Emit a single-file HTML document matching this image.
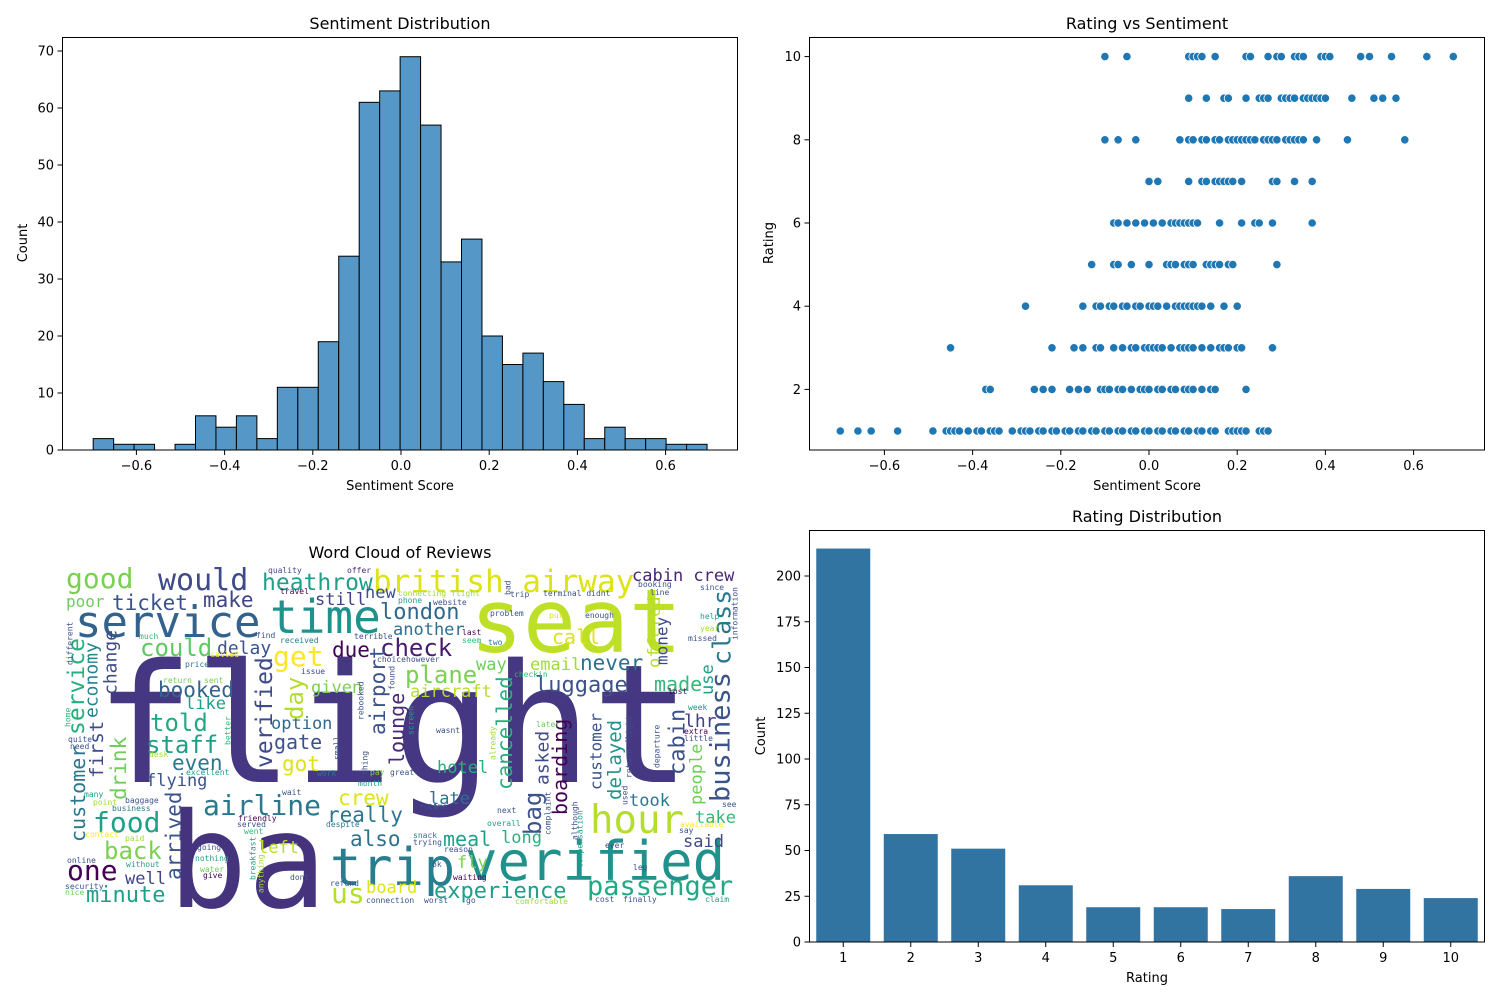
<!DOCTYPE html>
<html><head><meta charset="utf-8"><style>
body{margin:0;background:#fff;}
svg{display:block;font-family:"DejaVu Sans","Liberation Sans",sans-serif;}
.wc{font-family:"DejaVu Sans Mono","Liberation Mono",monospace;}
</style></head><body>
<svg id="fig" width="1500" height="1000" viewBox="0 0 1500 1000" xmlns="http://www.w3.org/2000/svg">
<rect width="1500" height="1000" fill="#fff"/>
<g id="hist"></g>
<g id="scat"></g>
<g id="bars"></g>
<g id="cloud" class="wc"></g>
<text x="400" y="29" font-size="16" text-anchor="middle">Sentiment Distribution</text>
<text x="400" y="490" font-size="13" text-anchor="middle">Sentiment Score</text>
<text transform="translate(27,243) rotate(-90)" font-size="13" text-anchor="middle">Count</text>
<text x="1147" y="29" font-size="16" text-anchor="middle">Rating vs Sentiment</text>
<text x="1147" y="490" font-size="13" text-anchor="middle">Sentiment Score</text>
<text transform="translate(773,243) rotate(-90)" font-size="13" text-anchor="middle">Rating</text>
<text x="400" y="558" font-size="16" text-anchor="middle">Word Cloud of Reviews</text>
<text x="1147" y="522" font-size="16" text-anchor="middle">Rating Distribution</text>
<text x="1147" y="982" font-size="13" text-anchor="middle">Rating</text>
<text transform="translate(765,736) rotate(-90)" font-size="13" text-anchor="middle">Count</text>
</svg>
<script>
const NS="http://www.w3.org/2000/svg";
// ---- histogram data ----
const histCounts=[2,1,1,0,1,6,4,6,2,11,11,19,34,61,63,69,57,33,37,20,15,17,12,8,2,4,2,2,1,1];
const histStart=-0.698;
const histBinWidth=0.0464;
const histXTicks=[-0.6,-0.4,-0.2,0.0,0.2,0.4,0.6];
const histYTicks=[0,10,20,30,40,50,60,70];
// ---- scatter data ----
const scatRatings=[10,9,8,7,6,5,4,3,2,1];
const scatSent=[
[-0.10,-0.05,0.09,0.10,0.11,0.12,0.15,0.22,0.23,0.27,0.29,0.30,0.33,0.34,0.35,0.39,0.40,0.41,0.48,0.50,0.55,0.63,0.69],
[0.09,0.13,0.17,0.18,0.22,0.25,0.26,0.27,0.30,0.31,0.31,0.32,0.33,0.35,0.36,0.37,0.38,0.39,0.40,0.46,0.51,0.53,0.56],
[-0.10,-0.07,-0.03,0.07,0.09,0.10,0.12,0.13,0.15,0.16,0.18,0.19,0.20,0.21,0.22,0.23,0.24,0.26,0.27,0.28,0.29,0.31,0.32,0.33,0.34,0.35,0.38,0.45,0.58],
[0.0,0.02,0.09,0.12,0.13,0.15,0.16,0.17,0.18,0.19,0.21,0.28,0.29,0.33,0.37],
[-0.08,-0.07,-0.05,-0.03,-0.01,0.01,0.03,0.05,0.06,0.07,0.08,0.09,0.10,0.11,0.16,0.21,0.24,0.25,0.28,0.37],
[-0.13,-0.08,-0.07,-0.04,0.00,0.04,0.05,0.06,0.08,0.09,0.10,0.13,0.14,0.15,0.16,0.18,0.19,0.29],
[-0.28,-0.15,-0.12,-0.11,-0.09,-0.08,-0.06,-0.05,-0.03,-0.02,0.00,0.01,0.02,0.04,0.06,0.07,0.08,0.09,0.10,0.11,0.12,0.14,0.17,0.20],
[-0.45,-0.22,-0.17,-0.15,-0.12,-0.11,-0.08,-0.06,-0.04,-0.03,-0.01,0.0,0.01,0.02,0.03,0.05,0.07,0.08,0.09,0.10,0.12,0.14,0.16,0.17,0.18,0.20,0.21,0.28],
[-0.37,-0.36,-0.26,-0.24,-0.22,-0.18,-0.16,-0.14,-0.11,-0.10,-0.09,-0.07,-0.06,-0.04,-0.02,-0.01,0.0,0.02,0.03,0.05,0.06,0.08,0.09,0.10,0.12,0.14,0.15,0.22],
[-0.70,-0.66,-0.63,-0.57,-0.49,-0.46,-0.45,-0.44,-0.43,-0.41,-0.39,-0.38,-0.36,-0.35,-0.34,-0.31,-0.29,-0.28,-0.27,-0.25,-0.24,-0.22,-0.21,-0.19,-0.18,-0.16,-0.15,-0.13,-0.12,-0.10,-0.09,-0.07,-0.06,-0.04,-0.03,-0.01,0.0,0.02,0.03,0.05,0.06,0.08,0.09,0.11,0.12,0.14,0.15,0.18,0.19,0.20,0.21,0.22,0.25,0.26,0.27]
];
const scatXTicks=[-0.6,-0.4,-0.2,0.0,0.2,0.4,0.6];
const scatYTicks=[2,4,6,8,10];
// ---- bar data ----
const barCats=["1","2","3","4","5","6","7","8","9","10"];
const barCounts=[215,59,51,31,19,19,18,36,29,24];
const barYTicks=[0,25,50,75,100,125,150,175,200];

function el(tag,attrs,parent){const e=document.createElementNS(NS,tag);for(const k in attrs)e.setAttribute(k,attrs[k]);parent.appendChild(e);return e;}
function fmt(v){return (v<0?"\u2212":"")+Math.abs(v).toFixed(1);}

// ---- histogram ----
const H=document.getElementById('hist');
const hx=v=>401+v*441, hy=c=>450-c*5.7;
histCounts.forEach((c,i)=>{
  const x0=hx(histStart+i*histBinWidth), x1=hx(histStart+(i+1)*histBinWidth);
  const r=el('rect',{x:x0,y:hy(c),width:x1-x0,height:hy(0)-hy(c),fill:'#5597c6',stroke:'#000','stroke-width':1},H);
  
  
});
el('rect',{x:62.5,y:37.5,width:675,height:412.5,fill:'none',stroke:'#000','stroke-width':1},H);
histXTicks.forEach(t=>{el('line',{x1:hx(t),x2:hx(t),y1:450,y2:455,stroke:'#000'},H);
  const tx=el('text',{x:hx(t),y:470,'font-size':13,'text-anchor':'middle'},H);tx.textContent=fmt(t);
  
  });
histYTicks.forEach(t=>{el('line',{x1:57.5,x2:62.5,y1:hy(t),y2:hy(t),stroke:'#000'},H);
  const tx=el('text',{x:54,y:hy(t)+4.5,'font-size':13,'text-anchor':'end'},H);tx.textContent=t;
  
  });

// ---- scatter ----
const S=document.getElementById('scat');
const sx=v=>1149+v*441, sy=r=>431-(r-1)*41.6;
el('rect',{x:809.5,y:37.5,width:675,height:412.5,fill:'none',stroke:'#000','stroke-width':1},S);
scatRatings.forEach((r,ri)=>{scatSent[ri].forEach(v=>{
  const c=el('circle',{cx:sx(v),cy:sy(r),r:4.2,fill:'#1f77b4',stroke:'#fff','stroke-width':0.8},S);
  
  
});});
scatXTicks.forEach(t=>{el('line',{x1:sx(t),x2:sx(t),y1:450,y2:455,stroke:'#000'},S);
  const tx=el('text',{x:sx(t),y:470,'font-size':13,'text-anchor':'middle'},S);tx.textContent=fmt(t);
  
  });
scatYTicks.forEach(t=>{el('line',{x1:804.5,x2:809.5,y1:sy(t),y2:sy(t),stroke:'#000'},S);
  const tx=el('text',{x:801,y:sy(t)+4.5,'font-size':13,'text-anchor':'end'},S);tx.textContent=t;
  
  });

// ---- bars ----
const B=document.getElementById('bars');
const bw=67.5, bx=i=>809.5+bw*(i+0.5), by=c=>942-c*1.83;
barCounts.forEach((c,i)=>{
  const r=el('rect',{x:bx(i)-bw*0.4,y:by(c),width:bw*0.8,height:by(0)-by(c),fill:'#3274a1'},B);
  
  
  el('line',{x1:bx(i),x2:bx(i),y1:942,y2:947,stroke:'#000'},B);
  const tx=el('text',{x:bx(i),y:962,'font-size':13,'text-anchor':'middle'},B);tx.textContent=barCats[i];
  
  
});
el('rect',{x:809.5,y:530.5,width:675,height:411.5,fill:'none',stroke:'#000','stroke-width':1},B);
barYTicks.forEach(t=>{el('line',{x1:804.5,x2:809.5,y1:by(t),y2:by(t),stroke:'#000'},B);
  const tx=el('text',{x:801,y:by(t)+4.5,'font-size':13,'text-anchor':'end'},B);tx.textContent=t;
  
  });

// ---- word cloud ----  [text, x, y, size, color, vertical]
const words=[
["flight",95,782,165,"#453781",0],["ba",168,907,132,"#46337e",0],["seat",470,652,88,"#bddf26",0],
["service",75,637,44,"#33638d",0],["time",270,633,46,"#20928c",0],["trip",330,885,52,"#287d8e",0],
["verified",465,880,54,"#21918c",0],["hour",590,833,39,"#b5de2b",0],["passenger",587,895,27,"#22a884",0],
["experience",434,898,22,"#1f9e89",0],["british airway",373,592,31,"#dde318",0],["cabin crew",632,581,17,"#482576",0],
["good",66,588,28,"#7ad151",0],["would",158,590,30,"#3e4a89",0],["heathrow",262,590,23,"#1f9e89",0],
["poor",66,607,16,"#6ece58",0],["ticket",112,610,21,"#3b528b",0],["make",203,607,21,"#414487",0],
["still",315,605,17,"#424086",0],["new",365,598,17,"#3b528b",0],["london",380,619,22,"#31688e",0],
["another",393,635,17,"#2c728e",0],["could",140,656,24,"#5ec962",0],["delay",217,654,18,"#3b528b",0],
["get",273,666,28,"#fde725",0],["due",332,657,21,"#440154",0],["check",380,656,24,"#481a6c",0],
["call",552,644,20,"#dde318",0],["plane",405,683,24,"#7ad151",0],["way",476,670,17,"#6ece58",0],
["email",530,670,17,"#a0da39",0],["never",580,670,21,"#2c728e",0],["booked",158,697,21,"#33638d",0],
["given",311,693,17,"#7ad151",0],["aircraft",410,697,17,"#b5de2b",0],["luggage",535,692,22,"#3b528b",0],
["made",654,691,20,"#35b779",0],["like",185,709,17,"#1f9e89",0],["told",150,731,24,"#22a884",0],
["option",271,729,17,"#31688e",0],["lhr",684,727,18,"#433e85",0],["staff",146,753,24,"#1f9e89",0],
["gate",274,749,20,"#3b528b",0],["even",172,770,21,"#2a788e",0],["got",282,771,21,"#dde318",0],
["hotel",437,773,17,"#29af7f",0],["flying",146,786,17,"#3b528b",0],["took",629,806,17,"#2a788e",0],
["late",429,804,17,"#2c728e",0],["crew",338,805,21,"#dde318",0],["airline",203,815,28,"#2a788e",0],
["really",327,822,21,"#2a788e",0],["take",695,823,17,"#35b779",0],["food",93,832,28,"#1fa187",0],
["long",501,843,17,"#2ab07f",0],["meal",443,846,20,"#1fa187",0],["also",350,846,21,"#2c728e",0],
["said",683,847,17,"#3e4a89",0],["back",104,859,24,"#7ad151",0],["left",258,853,17,"#b5de2b",0],
["fly",457,868,17,"#7ad151",0],["one",67,880,28,"#440154",0],["well",125,884,17,"#414487",0],
["board",366,893,17,"#dde318",0],["us",331,903,28,"#b5de2b",0],["minute",86,902,22,"#1f9e89",0],
["service",77,735,23,"#29af7f",1],["economy",92,718,18,"#25838e",1],["change",111,695,18,"#3e4a89",1],
["first",97,778,19,"#3e4a89",1],["customer",78,842,20,"#2a788e",1],["drink",119,800,21,"#6ece58",1],
["arrived",174,880,21,"#3b528b",1],["verified",265,768,23,"#3e4a89",1],["day",295,720,24,"#b5de2b",1],
["airport",378,735,21,"#3b528b",1],["lounge",397,765,20,"#482878",1],["cancelled",505,790,21,"#29af7f",1],
["asked",543,785,18,"#3e4a89",1],["boarding",560,815,20,"#440154",1],["bag",533,835,24,"#3b528b",1],
["customer",596,790,16,"#3b528b",1],["delayed",615,800,19,"#21918c",1],["offered",655,668,17,"#b5de2b",1],
["money",662,665,16,"#3e4a89",1],["class",722,665,25,"#2a788e",1],["business",721,802,27,"#3b528b",1],
["cabin",678,775,22,"#3b528b",1],["people",697,805,17,"#6ece58",1],["use",708,695,17,"#1f9e89",1],
["quality",268,573,8,"#3e4a89",0],["offer",347,573,8,"#482878",0],["travel",280,594,8,"#440154",0],
["much",139,639,8,"#35b779",0],["find",256,638,8,"#3b528b",0],["received",280,643,8,"#2a788e",0],
["terrible",354,639,8,"#3e4a89",0],["price",185,667,8,"#2c728e",0],["called",210,657,8,"#fde725",0],
["issue",301,674,8,"#3e4a89",0],["return",163,683,8,"#6ece58",0],["sent",204,683,8,"#7ad151",0],
["choice",377,662,8,"#3b528b",0],["however",406,662,8,"#3b528b",0],["checkin",514,677,8,"#35b779",0],
["connecting flight",398,596,8,"#a0da39",0],["phone",398,603,8,"#1f9e89",0],["website",433,605,8,"#3b528b",0],
["trip",510,597,8,"#3b528b",0],["terminal didnt",543,596,8,"#3b528b",0],["booking",638,587,8,"#3b528b",0],
["line",650,595,8,"#3b528b",0],["since",700,590,8,"#3b528b",0],["problem",490,616,8,"#3b528b",0],
["put",549,618,8,"#dde318",0],["enough",585,618,8,"#3b528b",0],["help",700,619,8,"#1f9e89",0],
["last",462,635,8,"#440154",0],["year",700,631,8,"#a0da39",0],["missed",688,641,8,"#3b528b",0],
["seem",462,643,8,"#35b779",0],["two",488,645,8,"#2a788e",0],["lost",668,694,8,"#440154",0],
["week",688,710,8,"#21918c",0],["later",536,727,8,"#6ece58",0],["wasnt",436,733,8,"#3b528b",0],
["extra",684,734,8,"#440154",0],["little",684,741,8,"#3b528b",0],["excellent",186,775,8,"#1f9e89",0],
["work",317,776,8,"#2a788e",0],["pay",370,775,8,"#7ad151",0],["great",390,775,8,"#3b528b",0],
["many",84,797,8,"#1f9e89",0],["wait",282,795,8,"#3b528b",0],["point",93,805,8,"#a0da39",0],
["baggage",125,803,8,"#3b528b",0],["business",112,811,8,"#2a788e",0],["friendly",238,821,8,"#440154",0],
["served",237,827,8,"#3b528b",0],["despite",326,827,8,"#2a788e",0],["went",244,834,8,"#35b779",0],
["contact",85,837,8,"#fde725",0],["paid",125,841,8,"#a0da39",0],["snack",413,838,8,"#2a788e",0],
["ok",432,867,8,"#3b528b",0],["going",197,850,8,"#3b528b",0],["online",67,863,8,"#3b528b",0],
["nothing",195,861,8,"#1f9e89",0],["without",126,867,8,"#1f9e89",0],["water",200,872,8,"#6ece58",0],
["give",203,878,8,"#440154",0],["dont",290,880,8,"#3b528b",0],["refund",330,886,8,"#3b528b",0],
["security",65,889,8,"#3b528b",0],["nice",65,895,8,"#6ece58",0],["connection",366,903,8,"#3b528b",0],
["worst",424,903,8,"#3b528b",0],["go",466,903,8,"#3b528b",0],["comfortable",515,904,8,"#a0da39",0],
["cost",595,902,8,"#3b528b",0],["finally",623,902,8,"#3b528b",0],["claim",705,902,8,"#1f9e89",0],
["waiting",453,880,8,"#440154",0],["leg",633,870,8,"#3b528b",0],["ever",605,848,8,"#3b528b",0],
["say",679,833,8,"#3b528b",0],["available",680,827,8,"#fde725",0],["see",722,807,8,"#3b528b",0],
["overall",487,826,8,"#1f9e89",0],["next",497,813,8,"#3b528b",0],["came",428,809,8,"#3b528b",0],
["full",419,810,8,"#3b528b",0],["reason",444,852,8,"#3b528b",0],["trying",413,845,8,"#3b528b",0],
["different",70,665,8,"#3b528b",1],["home",68,727,8,"#35b779",1],["quite",68,742,8,"#3b528b",0],
["need",70,749,8,"#3b528b",0],["desk",149,757,8,"#a0da39",0],["month",358,786,8,"#1f9e89",0],
["information",735,640,8,"#3b528b",1],["return flight",629,778,8,"#3b528b",1],["departure",657,768,8,"#3b528b",1],
["used",625,805,8,"#3b528b",1],["already",493,760,8,"#a0da39",1],["complaint",548,835,8,"#3b528b",1],
["although",575,840,8,"#3b528b",1],["compensation",580,868,8,"#1f9e89",1],["breakfast",253,880,8,"#1f9e89",1],
["anything",261,893,8,"#a0da39",1],["rebooked",361,720,8,"#3b528b",1],["small",337,760,8,"#3b528b",1],
["thing",365,775,8,"#3b528b",1],["screen",411,735,8,"#1f9e89",1],["better",228,745,8,"#35b779",1],
["bad",508,595,8,"#3b528b",1],["found",392,690,8,"#3b528b",1]
];
const C=document.getElementById('cloud');
words.forEach(w=>{
  let t;
  if(w[5]){t=el('text',{transform:`translate(${w[1]},${w[2]}) rotate(-90)`,'font-size':w[3],fill:w[4],'dominant-baseline':'central'},C);}
  else{t=el('text',{x:w[1],y:w[2],'font-size':w[3],fill:w[4]},C);}
  t.textContent=w[0];
  
  
});
</script>
</body></html>
